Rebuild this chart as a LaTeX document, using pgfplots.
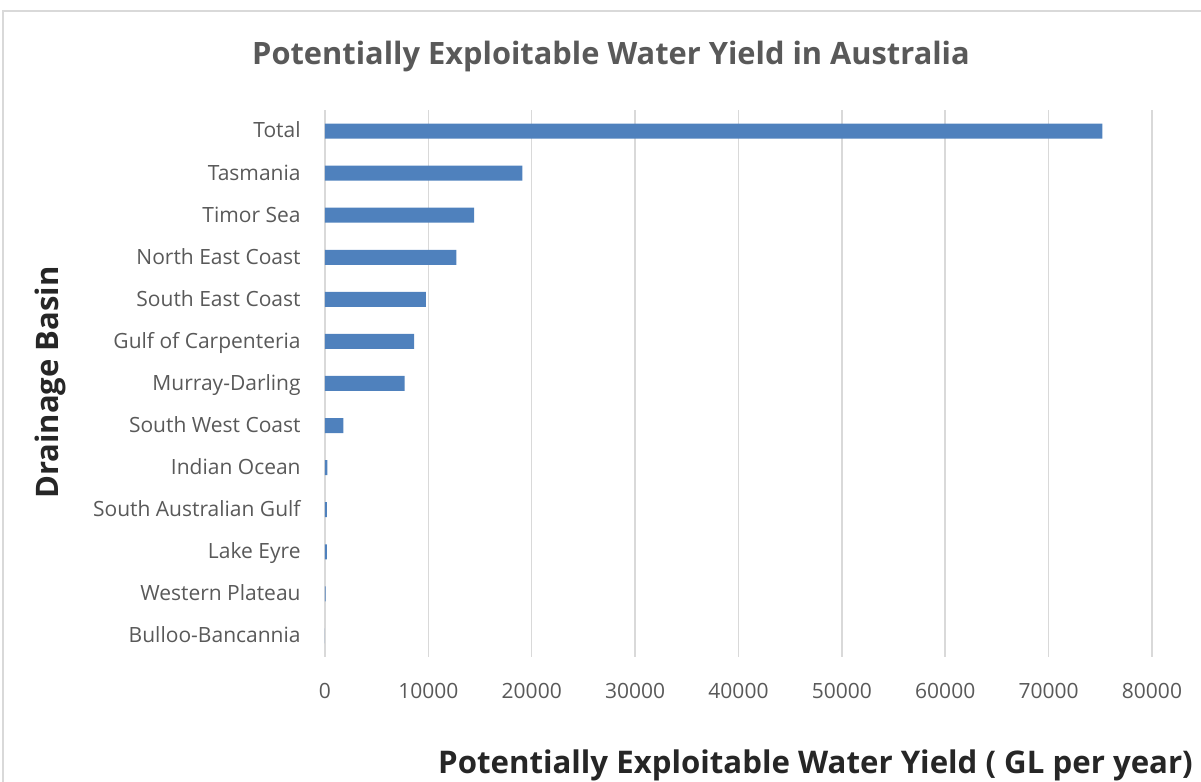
\documentclass[border=0pt]{standalone}
\usepackage{fontspec}
\setmainfont{Open Sans}
\usepackage{pgfplots}
\pgfplotsset{compat=1.18}
\definecolor{barblue}{HTML}{4F81BD}
\definecolor{gridgray}{HTML}{D9D9D9}
\definecolor{txtgray}{HTML}{595959}

% Potentially exploitable water yield by drainage basin (GL per year)
\pgfplotstableread{
idx value
0 0
1 50
2 180
3 180
4 220
5 1770
6 7700
7 8630
8 9760
9 12720
10 14430
11 19100
12 75200
}\yieldtable

\begin{document}
\begin{tikzpicture}
\useasboundingbox (0,0) rectangle (600.5pt,391pt);
\draw[gridgray, line width=0.75pt] (1.5pt,385.5pt) rectangle (620pt,-20pt);
\begin{axis}[
  at={(162.5pt,62.5pt)}, anchor=south west,
  scale only axis, width=413.5pt, height=273.5pt,
  xbar, bar width=7.5pt,
  xmin=0, xmax=80000, ymin=-0.5, ymax=12.5,
  xtick={0,10000,...,80000},
  scaled x ticks=false,
  /pgf/number format/1000 sep={},
  /pgf/number format/assume math mode=true,
  ytick={0,...,12},
  yticklabels={Bulloo-Bancannia,Western Plateau,Lake Eyre,South Australian Gulf,Indian Ocean,South West Coast,Murray-Darling,Gulf of Carpenteria,South East Coast,North East Coast,Timor Sea,Tasmania,Total},
  major tick length=0pt,
  axis line style={draw=none},
  xmajorgrids, grid style={gridgray, line width=0.75pt},
  tick label style={font=\fontsize{10.5}{12}\selectfont, text=txtgray},
  yticklabel style={anchor=east, inner sep=0pt, xshift=-12pt, text height=1.6ex, text depth=0.3ex},
  xticklabel style={anchor=north, inner sep=0pt, yshift=-13pt},
]
\addplot[fill=barblue, draw=none] table[x=value, y=idx] {\yieldtable};
\end{axis}
\node[font=\fontsize{15.4}{18}\selectfont\bfseries, text=txtgray] at (305.5pt,362.5pt) {Potentially Exploitable Water Yield in Australia};
\node[font=\fontsize{15.6}{18}\selectfont\bfseries, text=black!85, anchor=base] at (407.75pt,4pt) {Potentially Exploitable Water Yield ( GL per year)};
\node[font=\fontsize{15.5}{18}\selectfont\bfseries, text=black!85, rotate=90] at (25pt,199.75pt) {Drainage Basin};
\end{tikzpicture}
\end{document}
